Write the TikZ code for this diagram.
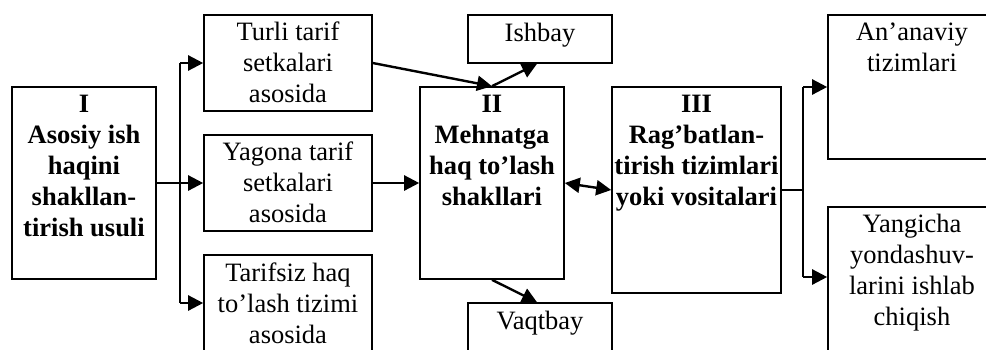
\documentclass[tikz,border=0pt]{standalone}
\usepackage{fontspec}
\setmainfont{Liberation Serif}
\usetikzlibrary{arrows.meta}
\begin{document}
\begin{tikzpicture}[x=1pt,y=-1pt,
  box/.style={draw, line width=1.6pt, inner sep=0pt},
  txt/.style={inner sep=0pt, align=center, font=\fontsize{26.5}{31}\selectfont},
  btxt/.style={inner sep=0pt, align=center, font=\fontsize{26.5}{31}\selectfont\bfseries},
  ln/.style={line width=2.4pt},
  arr/.style={line width=2.4pt, -{Triangle[length=15pt,width=15pt]}},
  darr/.style={line width=2.4pt, {Triangle[length=15pt,width=15pt]}-{Triangle[length=15pt,width=15pt]}}]
\clip (0,0) rectangle (986,349);
\fill[white] (0,0) rectangle (986,349);
% boxes
\node[box, minimum width=144pt, minimum height=192pt] (b1) at (84,183) {};
\node[box, minimum width=168pt, minimum height=96pt] (turli) at (288,63) {};
\node[box, minimum width=168pt, minimum height=96pt] (yagona) at (288,183) {};
\node[box, minimum width=168pt, minimum height=96pt] (tarif) at (288,303) {};
\node[box, minimum width=144pt, minimum height=192pt] (b2) at (492,183) {};
\node[box, minimum width=144pt, minimum height=48pt] (ish) at (540,39) {};
\node[box, minimum width=144pt, minimum height=48pt] (vaqt) at (540,327) {};
\node[box, minimum width=169pt, minimum height=206pt] (b3) at (696.5,190) {};
\node[box, minimum width=168pt, minimum height=144pt] (ana) at (912,87) {};
\node[box, minimum width=168pt, minimum height=144pt] (yang) at (912,279) {};
% texts
\node[btxt, anchor=north] (t1) at ([yshift=-4.3pt]b1.north) {\strut I\\Asosiy ish\\haqini\\shakllan-\\tirish usuli};
\node[txt, anchor=north] (tturli) at ([yshift=-4.3pt]turli.north) {\strut Turli tarif\\setkalari\\asosida};
\node[txt, anchor=north] (tyag) at ([yshift=-4.3pt]yagona.north) {\strut Yagona tarif\\setkalari\\asosida};
\node[txt, anchor=north] (ttar) at ([yshift=-5.3pt]tarif.north) {\strut Tarifsiz haq\\to’lash tizimi\\asosida};
\node[btxt, anchor=north] (t2) at ([yshift=-4.3pt]b2.north) {\strut II\\Mehnatga\\haq to’lash\\shakllari};
\node[txt, anchor=north] (tish) at ([yshift=-5.3pt]ish.north) {\strut Ishbay};
\node[txt, anchor=north] (tvaqt) at ([yshift=-5.3pt]vaqt.north) {\strut Vaqtbay};
\node[btxt, anchor=north] (t3) at ([yshift=-4.3pt]b3.north) {\strut III\\Rag’batlan-\\tirish tizimlari\\yoki vositalari};
\node[txt, anchor=north] (tana) at ([yshift=-4.3pt]ana.north) {\strut An’anaviy\\tizimlari};
\node[txt, anchor=north] (tyang) at ([yshift=-4.3pt]yang.north) {\strut Yangicha\\yondashuv-\\larini ishlab\\chiqish};
% left fork
\coordinate (la) at (180,63);
\coordinate (lb) at (180,303);
\draw[ln] (la) -- (lb);
\draw[arr] (b1.east) -- (yagona.west);
\draw[arr] (la) -- (turli.west);
\draw[arr] (lb) -- (tarif.west |- lb);
% middle
\draw[arr] (yagona.east) -- (b2.west);
\draw[arr] (turli.east) -- (b2.north);
\draw[arr] (b2.north) -- ([xshift=-3pt]ish.south);
\draw[arr] (b2.south) -- ([xshift=-3pt]vaqt.north);
\draw[darr] (b2.east) -- (b3.west);
% right fork
\coordinate (ra) at (803,87);
\coordinate (rb) at (803,277);
\draw[ln] (b3.east) -- (b3.east -| ra);
\draw[ln] (ra) -- (rb);
\draw[arr] (ra) -- (ana.west |- ra);
\draw[arr] (rb) -- (yang.west |- rb);
\end{tikzpicture}
\end{document}
